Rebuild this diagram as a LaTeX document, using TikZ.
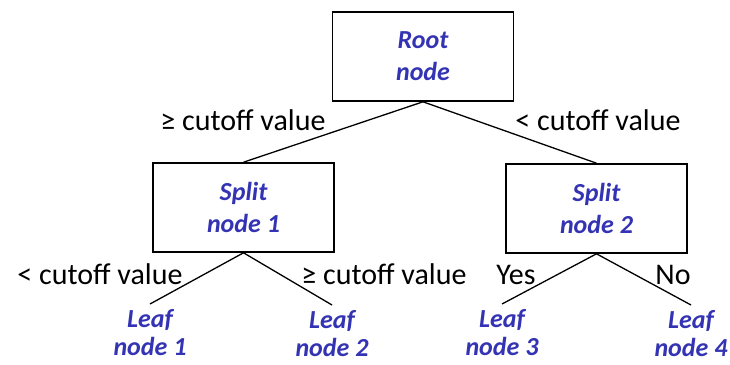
\documentclass[tikz,border=0pt]{standalone}
\usepackage{fontspec}
\setmainfont{Carlito}
\usepackage{tikz}
\usetikzlibrary{positioning}
\definecolor{nodeblue}{HTML}{3333B3}
\tikzset{box/.style={draw=black,line width=1.6pt,rectangle,
  minimum width=181pt,minimum height=89pt,align=center,
  font=\fontsize{26}{32}\selectfont\bfseries\itshape,text=nodeblue},
  leaf/.style={align=center,inner xsep=1pt,inner ysep=5pt,
  font=\fontsize{26}{28}\selectfont\bfseries\itshape,text=nodeblue},
  branch/.style={line width=1.3pt,draw=black},
  cut/.style={anchor=base,inner sep=0pt,font=\fontsize{30}{32}\selectfont}}

\begin{document}
\begin{tikzpicture}[x=1pt,y=-1pt]
\useasboundingbox (0,0) rectangle (730,364);
% boxes
\node[box] (root) at (423,56.5) {Root\\node};
\node[box] (split1) at (243.5,207.5) {Split\\node 1};
\node[box] (split2) at (596.5,208.5) {Split\\node 2};
% leaves
\node[leaf,anchor=north] (leaf1) at (150,304) {Leaf\\node 1};
\node[leaf,anchor=north] (leaf2) at (332,305) {Leaf\\node 2};
\node[leaf,anchor=north] (leaf3) at (502,304) {Leaf\\node 3};
\node[leaf,anchor=north] (leaf4) at (691,305) {Leaf\\node 4};
% branch labels
\node[cut] (geroot) at (243,130) {≥ cutoff value};
\node[cut] (ltroot) at (598,130) {< cutoff value};
\node[cut] (ltsplit) at (100,284) {< cutoff value};
\node[cut] (gesplit) at (384,284) {≥ cutoff value};
\node[cut] (yes) at (516,284) {Yes};
\node[cut] (no) at (673,284) {No};
\draw[branch] (root.south) -- (split1.north);
\draw[branch] (root.south) -- (split2.north);
\draw[branch] (split1.south) -- (leaf1.north);
\draw[branch] (split1.south) -- (leaf2.north);
\draw[branch] (split2.south) -- (leaf3.north);
\draw[branch] (split2.south) -- (leaf4.north);
\end{tikzpicture}
\end{document}
